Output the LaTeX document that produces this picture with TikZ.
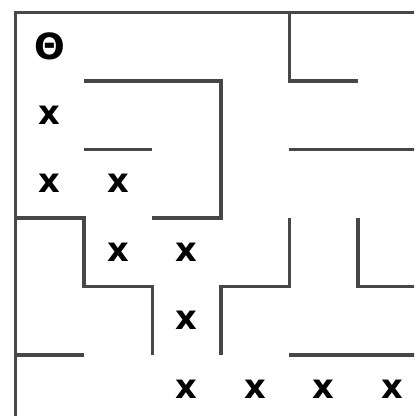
\documentclass[tikz,border=0pt]{standalone}
\usepackage{fontspec}
\setmainfont{DejaVu Sans}
\usepackage{tikz}

\begin{document}
\begin{tikzpicture}[
  wall/.style={draw=black!72, line width=1.45pt},
  visited/.style={font=\fontsize{14}{14}\selectfont\bfseries, inner sep=0pt},
  start/.style={font=\fontsize{15}{15}\selectfont\bfseries, inner sep=0pt}
]
  \useasboundingbox (-0.226,0.182) rectangle (5.818,-5.891);
  \clip (-0.226,0.182) rectangle (5.818,-5.891);

  % outer border
  \draw[wall] (6,0) -- (0,0) -- (0,-6);

  % walls, top half
  \draw[wall] (4,0) -- (4,-1) -- (5,-1);
  \draw[wall] (1,-1) -- (3,-1) -- (3,-3) -- (2,-3);
  \draw[wall] (1,-2) -- (2,-2);
  \draw[wall] (4,-2) -- (6,-2);

  % walls, bottom half
  \draw[wall] (0,-3) -- (1,-3) -- (1,-4) -- (2,-4) -- (2,-5);
  \draw[wall] (4,-3) -- (4,-4) -- (3,-4) -- (3,-5);
  \draw[wall] (5,-3) -- (5,-4) -- (6,-4);
  \draw[wall] (0,-5) -- (1,-5);
  \draw[wall] (4,-5) -- (6,-5);

  % start cell and path
  \node[start] (s0) at (0.5,-0.5) {Θ};
  \node[visited] (p1) at (0.5,-1.5) {x};
  \node[visited] (p2) at (0.5,-2.5) {x};
  \node[visited] (p3) at (1.5,-2.5) {x};
  \node[visited] (p4) at (1.5,-3.5) {x};
  \node[visited] (p5) at (2.5,-3.5) {x};
  \node[visited] (p6) at (2.5,-4.5) {x};
  \node[visited] (p7) at (2.5,-5.5) {x};
  \node[visited] (p8) at (3.5,-5.5) {x};
  \node[visited] (p9) at (4.5,-5.5) {x};
  \node[visited] (p10) at (5.5,-5.5) {x};
\end{tikzpicture}
\end{document}
